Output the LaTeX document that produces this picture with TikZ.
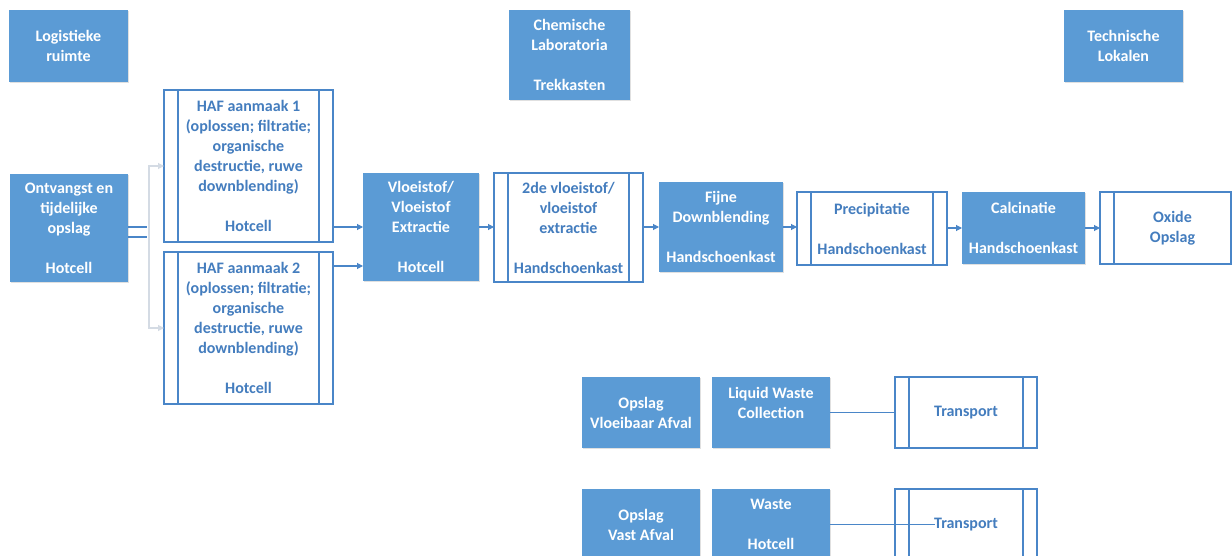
\documentclass[tikz,border=0pt]{standalone}
\usepackage{fontspec}
\setmainfont{Carlito}
\usepackage{tikz}
\usetikzlibrary{arrows.meta,shadows}
\definecolor{vlakblauw}{RGB}{91,155,213}
\definecolor{lijnblauw}{RGB}{74,134,200}
\definecolor{tekstblauw}{RGB}{68,125,190}
\definecolor{grijslijn}{RGB}{212,219,228}
\tikzstyle{blok} = [rectangle, inner sep=2pt, outer sep=0pt, align=center, font=\fontsize{12}{15}\selectfont\bfseries]
\tikzstyle{vol} = [blok, fill=vlakblauw, text=white, drop shadow={shadow xshift=0.8pt, shadow yshift=-0.8pt, opacity=0.2, fill=black!60}]
\tikzstyle{proces} = [blok, draw=lijnblauw, line width=0.8pt, fill=white, text=tekstblauw,
    path picture={\draw[lijnblauw, line width=0.8pt]
        ([xshift=10.5pt]path picture bounding box.north west) -- ([xshift=10.5pt]path picture bounding box.south west)
        ([xshift=-10.5pt]path picture bounding box.north east) -- ([xshift=-10.5pt]path picture bounding box.south east);}]
\tikzstyle{pijl} = [draw=lijnblauw, line width=0.8pt, -{Triangle[length=4.5pt,width=4.5pt]}]
\tikzstyle{verbind} = [draw=lijnblauw, line width=0.8pt]
\tikzstyle{zwak} = [draw=grijslijn, line width=0.8pt, -{Triangle[length=4.5pt,width=4.5pt]}]

\begin{document}
\begin{tikzpicture}[x=0.75pt, y=-0.75pt]
\fill[white] (0,0) rectangle (1232,556);
\clip (0,0) rectangle (1232,556);     % beeldvlak in pixels

% ruimtes bovenaan
\node [vol, minimum width=89.25pt, minimum height=54pt] (logistiek) at (68.5,46) {Logistieke\\ ruimte};
\node [vol, minimum width=90.75pt, minimum height=67.5pt] (chemie) at (569.5,55) {Chemische\\ Laboratoria\\[15pt] Trekkasten};
\node [vol, minimum width=89.25pt, minimum height=54pt] (technisch) at (1123.5,46) {Technische\\ Lokalen};

% hoofdproces
\node [vol, minimum width=88.5pt, minimum height=81pt] (ontvangst) at (69,228) {Ontvangst en\\ tijdelijke\\ opslag\\[15pt] Hotcell};
\node [proces, minimum width=126.75pt, minimum height=114pt] (haf1) at (248.5,166) {HAF aanmaak 1\\ (oplossen; filtratie;\\ organische\\ destructie, ruwe\\ downblending)\\[15pt] Hotcell};
\node [proces, minimum width=126.75pt, minimum height=114pt] (haf2) at (248.5,328) {HAF aanmaak 2\\ (oplossen; filtratie;\\ organische\\ destructie, ruwe\\ downblending)\\[15pt] Hotcell};
\node [vol, minimum width=87pt, minimum height=81pt] (extractie) at (421,227) {Vloeistof/\\ Vloeistof\\ Extractie\\[15pt] Hotcell};
\node [proces, minimum width=111.75pt, minimum height=81.75pt] (extractie2) at (568.5,227.5) {2de vloeistof/\\ vloeistof\\ extractie\\[15pt] Handschoenkast};
\node [vol, minimum width=93pt, minimum height=67.5pt] (fijne) at (721,227) {Fijne\\ Downblending\\[15pt] Handschoenkast};
\node [proces, minimum width=112.5pt, minimum height=54.75pt] (precipitatie) at (872,228.5) {Precipitatie\\[15pt] Handschoenkast};
\node [vol, minimum width=92.25pt, minimum height=54pt] (calcinatie) at (1023.5,228) {Calcinatie\\[15pt] Handschoenkast};
\node [proces, minimum width=108.75pt, minimum height=54pt] (oxide) at (1172.5,228) {Oxide\\ Opslag};

% afval
\node [vol, minimum width=88.5pt, minimum height=53.25pt] (opslagvloei) at (641,412.5) {Opslag\\ Vloeibaar Afval};
\node [vol, minimum width=88.5pt, minimum height=53.25pt] (liquid) at (771,412.5) {Liquid Waste\\ Collection\\ \mbox{}};
\node [proces, minimum width=106.5pt, minimum height=53.25pt] (transport1) at (966,412.5) {Transport};
\node [vol, minimum width=88.5pt, minimum height=53.25pt] (opslagvast) at (641,524.5) {Opslag\\ Vast Afval};
\node [vol, minimum width=88.5pt, minimum height=53.25pt] (waste) at (771,524.5) {Waste\\[15pt] Hotcell};
\node [proces, minimum width=106.5pt, minimum height=53.25pt] (transport2) at (966,524.5) {Transport};

% verbindingen
\coordinate (tak1) at (147,227);
\coordinate (tak2) at (147,237);
\coordinate (splits) at (149,246);
\coordinate (eindlijn) at (935,525);
\draw [verbind] (ontvangst.east |- tak1) -- (tak1);
\draw [verbind] (ontvangst.east |- tak2) -- (tak2);
\draw [zwak] (splits) |- (haf1.west);
\draw [zwak] (splits) |- (haf2.west);
\draw [pijl] (haf1.east |- extractie.west) -- (extractie.west);
\draw [pijl] ([yshift=-10.5pt]haf2.north east) -- ([yshift=-10.5pt]haf2.north east -| extractie.west);
\draw [pijl] (extractie.east) -- (extractie.east -| extractie2.west);
\draw [pijl] (extractie2.east |- fijne.west) -- (fijne.west);
\draw [pijl] (fijne.east) -- (fijne.east -| precipitatie.west);
\draw [pijl] (precipitatie.east |- calcinatie.west) -- (calcinatie.west);
\draw [pijl] (calcinatie.east) -- (calcinatie.east -| oxide.west);
\draw [verbind] (liquid.east) -- (liquid.east -| transport1.west);
\draw [verbind] (waste.east) -- (waste.east -| eindlijn);
\end{tikzpicture}
\end{document}
